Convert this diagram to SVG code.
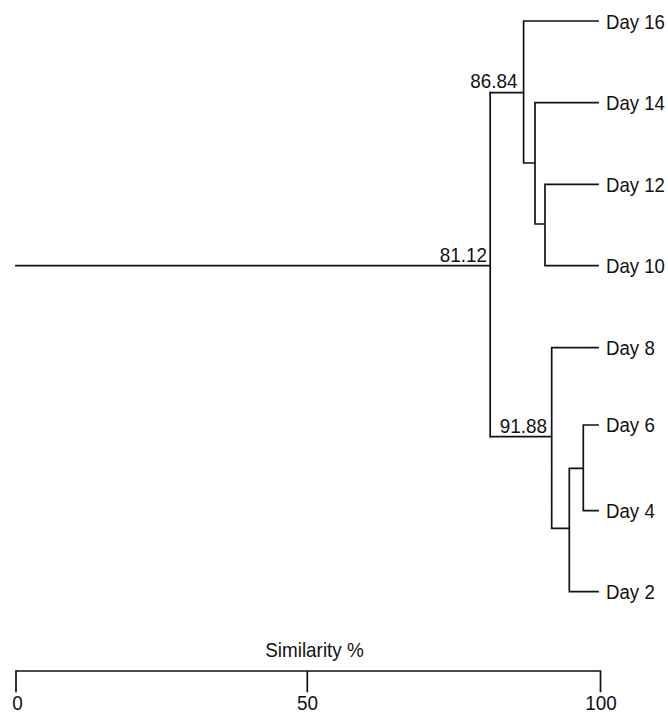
<svg xmlns="http://www.w3.org/2000/svg" width="668" height="715" viewBox="0 0 668 715">
<style>
.ln{fill:none;stroke:#111;stroke-width:1.7;stroke-linecap:square}
.t{font-family:"Liberation Sans",Arial,sans-serif;font-size:21px;fill:#111}
.e{text-anchor:end}
.m{text-anchor:middle}
</style>
<rect width="668" height="715" fill="#fff"/>
<g id="connectors">
<path class="ln" d="M16,265.7H490.2M490.2,92.7V436.7"/>
<path class="ln" d="M490.2,92.7H523.6M523.6,21V163M523.6,21H598M523.6,163H535M535,102.7V224M535,102.7H598M535,224H545M545,184.3V265.7M545,184.3H598M545,265.7H598"/>
<path class="ln" d="M490.2,436.7H551.7M551.7,347.7V528.3M551.7,347.7H598M551.7,528.3H569.3M569.3,468.3V591.7M569.3,591.7H598M569.3,468.3H583.3M583.3,425V510.7M583.3,425H598M583.3,510.7H598"/>
</g>
<g id="leaf-day16"><text class="t" transform="translate(606,28.5) scale(0.885,1)">Day 16</text></g>
<g id="leaf-day14"><text class="t" transform="translate(606,110) scale(0.885,1)">Day 14</text></g>
<g id="leaf-day12"><text class="t" transform="translate(606,191.5) scale(0.885,1)">Day 12</text></g>
<g id="leaf-day10"><text class="t" transform="translate(606,273) scale(0.885,1)">Day 10</text></g>
<g id="leaf-day8"><text class="t" transform="translate(606,354.5) scale(0.89,1)">Day 8</text></g>
<g id="leaf-day6"><text class="t" transform="translate(606,432) scale(0.89,1)">Day 6</text></g>
<g id="leaf-day4"><text class="t" transform="translate(606,518) scale(0.89,1)">Day 4</text></g>
<g id="leaf-day2"><text class="t" transform="translate(606,599) scale(0.89,1)">Day 2</text></g>
<g id="node-81"><text class="t e" transform="translate(487,261.7) scale(0.9,1)">81.12</text></g>
<g id="node-86"><text class="t e" transform="translate(517.5,87.5) scale(0.9,1)">86.84</text></g>
<g id="node-91"><text class="t e" transform="translate(547,433.3) scale(0.9,1)">91.88</text></g>
<g id="axis">
<path class="ln" d="M16,691.5V671H600.5V691.5M307.3,671V691.5"/>
<text class="t m" transform="translate(314.5,657.3) scale(0.9,1)">Similarity %</text>
<text class="t m" transform="translate(17.5,710.3) scale(0.9,1)">0</text>
<text class="t m" transform="translate(307.5,710.3) scale(0.9,1)">50</text>
<text class="t m" transform="translate(601,710.3) scale(0.9,1)">100</text>
</g>
</svg>
